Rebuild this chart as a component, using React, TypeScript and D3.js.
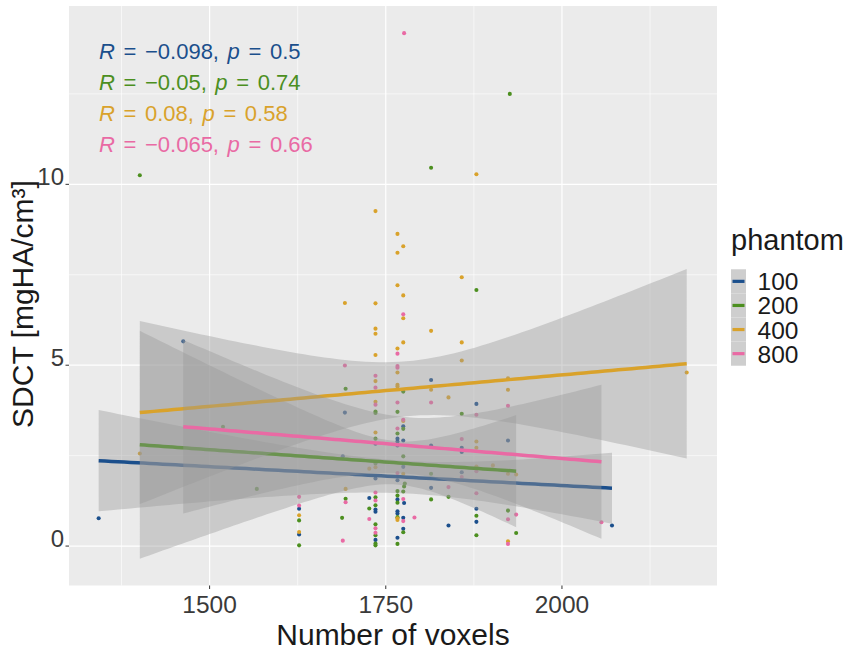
import React from "react";
import * as d3 from "d3";

// ---------- data ----------
const groups = ["100", "200", "400", "800"];
const groupColors = ["#1B4F8C", "#4C8F1F", "#D9A22B", "#E96AA4"];

const x100 = [1342.6, 1462.6, 1627, 1627, 1689, 1692, 1726.6, 1735.4, 1735.4, 1735.4, 1735.4, 1735.4, 1766.6, 1766.6, 1766.6, 1766.6, 1766.6, 1766.6, 1766.6, 1766.6, 1774.8, 1774.8, 1774.8, 1776, 1774.8, 1774.8, 1814.3, 1814.3, 1814.3, 1839, 1857.8, 1857.8, 1857.8, 1878.6, 1878.6, 1878.6, 1923.4, 2071];
const y100 = [0.77, 5.66, 1.03, 0.32, 2.48, 3.69, 1.33, 2.83, 1.87, 1.01, 0.95, 0.17, 2.97, 2.89, 2.78, 1.82, 1.29, 0.96, 0.9, 0.23, 3.31, 2.92, 2.19, 1.19, 0.78, 0.48, 4.59, 2.78, 1.61, 0.57, 2.72, 2.6, 2.04, 3.93, 1.03, 0.67, 2.92, 0.57];

const x200 = [1401, 1519, 1567, 1627, 1627, 1693, 1693, 1688, 1726.6, 1735.4, 1735.4, 1735.4, 1735.4, 1735.4, 1735.4, 1735.4, 1735.4, 1735.4, 1735.4, 1766.6, 1766.6, 1766.6, 1766.6, 1766.6, 1766.6, 1766.6, 1774.8, 1774.8, 1774.8, 1777, 1776, 1774.8, 1774.8, 1814.3, 1814.3, 1814.3, 1839, 1857.8, 1878.6, 1878.6, 1878.6, 1923.4, 1926, 1935];
const y200 = [10.25, 3.3, 1.58, 0.71, 0.02, 4.35, 1.31, 0.78, 1.04, 3.72, 3.68, 2.97, 2.28, 1.35, 1.13, 0.6, 0.3, 0.07, 0.02, 3.71, 3.11, 1.52, 1.4, 1.2, 0.8, 0.06, 4.27, 3.24, 2.48, 1.73, 1.65, 1.51, 0.38, 10.46, 2.0, 1.29, 1.36, 3.66, 7.08, 0.84, 0.3, 0.98, 12.5, 0.36];

const x400 = [1401, 1627, 1627, 1692, 1693, 1726.6, 1735.4, 1735.4, 1735.4, 1735.4, 1735.4, 1735.4, 1735.4, 1735.4, 1735.4, 1766.6, 1766.6, 1766.6, 1766.6, 1766.6, 1766.6, 1766.6, 1766.6, 1766.6, 1774.8, 1774.8, 1774.8, 1774.8, 1774.8, 1774.8, 1814.3, 1814.3, 1839, 1857.8, 1857.8, 1857.8, 1878.6, 1878.6, 1878.6, 1878.6, 1902, 1923.4, 1923.4, 1923.4, 1923.4, 1935, 2177];
const y400 = [2.56, 0.85, 0.39, 6.72, 1.58, 2.14, 9.26, 6.71, 6.01, 5.87, 5.28, 4.56, 3.99, 3.14, 2.18, 8.63, 8.11, 7.21, 5.46, 4.8, 4.46, 4.41, 0.77, 0.72, 8.29, 6.93, 6.3, 5.63, 3.46, 2.0, 5.95, 4.32, 4.11, 7.43, 5.63, 5.13, 10.28, 2.89, 2.72, 2.2, 2.23, 4.64, 4.32, 2.0, 0.13, 1.98, 4.8];

const x800 = [1627, 1627, 1692, 1693, 1689, 1726.6, 1735.4, 1735.4, 1735.4, 1735.4, 1735.4, 1735.4, 1735.4, 1766.6, 1766.6, 1766.6, 1766.6, 1766.6, 1766.6, 1774.8, 1774.8, 1774.8, 1774.8, 1776, 1790.7, 1814.3, 1839, 1857.8, 1857.8, 1878.6, 1878.6, 1878.6, 1923.4, 1923.4, 1923.4, 1935, 2056];
const y800 = [1.36, 1.12, 4.99, 1.21, 0.15, 0.75, 4.71, 4.38, 3.91, 1.48, 1.26, 0.49, 0.37, 5.32, 4.98, 4.93, 3.97, 3.25, 2.02, 6.41, 3.49, 1.3, 0.69, 14.18, 0.79, 3.97, 1.63, 2.96, 1.91, 3.63, 2.07, 1.46, 3.88, 0.74, 0.06, 0.87, 0.66];

const groupX = [x100, x200, x400, x800];
const groupY = [y100, y200, y400, y800];

// regression fits: end points of the line and CI half-widths
const fitX0 = [1342.6, 1401, 1401, 1462.6];
const fitX1 = [2071, 1935, 2177, 2056];
const fitY0 = [2.36, 2.8, 3.69, 3.3];
const fitY1 = [1.6, 2.07, 5.04, 2.33];
const ciHalf0 = [1.4, 3.15, 2.53, 2.4];
const ciHalf1 = [0.98, 1.55, 2.62, 2.13];
const ciHalfMin = [0.45, 0.6, 0.76, 0.78];

const corR = ["\u22120.098", "\u22120.05", "0.08", "\u22120.065"];
const corP = ["0.5", "0.74", "0.58", "0.66"];

const xMajor = [1500, 1750, 2000];
const xMinor = [1375, 1625, 1875, 2125];
const yMajor = [0, 5, 10];
const yMinor = [2.5, 7.5, 12.5];

const W = 851;
const H = 652;
const panel = { left: 69, right: 717, top: 6, bottom: 585.5 };

const xScale = d3.scaleLinear().domain([1300.5, 2220]).range([panel.left, panel.right]);
const yScale = d3.scaleLinear().domain([-1.09, 14.93]).range([panel.bottom, panel.top]);

function ribbonData(i: number) {
  const x0 = fitX0[i], x1 = fitX1[i];
  const m2 = ciHalfMin[i] ** 2;
  const a0 = ciHalf0[i] ** 2 - m2;
  const a1 = ciHalf1[i] ** 2 - m2;
  const r = Math.sqrt(a0 / a1);
  const xbar = (x0 + r * x1) / (1 + r);
  const b = a0 / ((x0 - xbar) ** 2);
  const line = d3.scaleLinear().domain([x0, x1]).range([fitY0[i], fitY1[i]]);
  const xsamp = d3.range(0, 81).map((k) => x0 + ((x1 - x0) * k) / 80);
  return xsamp.map((x) => {
    const hw = Math.sqrt(m2 + b * (x - xbar) ** 2);
    const yv = line(x);
    return { x, y: yv, lo: yv - hw, hi: yv + hw };
  });
}

const area = d3
  .area<{ x: number; lo: number; hi: number }>()
  .x((d) => xScale(d.x))
  .y0((d) => yScale(d.lo))
  .y1((d) => yScale(d.hi));
const fitLine = d3
  .line<{ x: number; y: number }>()
  .x((d) => xScale(d.x))
  .y((d) => yScale(d.y));

export default function App() {
  const font = "'Liberation Sans', Arial, Helvetica, sans-serif";
  const legendKeyH = 24.1;
  const legendTop = 269.3;
  return (
    <div style={{ position: "absolute", left: 0, top: 0 }}>
      <svg width={W} height={H} viewBox={`0 0 ${W} ${H}`} style={{ display: "block", fontFamily: font }}>
        <rect x={0} y={0} width={W} height={H} fill="#FFFFFF" />
        <rect
          x={panel.left}
          y={panel.top}
          width={panel.right - panel.left}
          height={panel.bottom - panel.top}
          fill="#EBEBEB"
        />
        {/* minor grid */}
        {xMinor.map((v) => (
          <line key={"xm" + v} x1={xScale(v)} x2={xScale(v)} y1={panel.top} y2={panel.bottom} stroke="#FFFFFF" strokeWidth={0.6} />
        ))}
        {yMinor.map((v) => (
          <line key={"ym" + v} y1={yScale(v)} y2={yScale(v)} x1={panel.left} x2={panel.right} stroke="#FFFFFF" strokeWidth={0.6} />
        ))}
        {/* major grid */}
        {xMajor.map((v) => (
          <line key={"xM" + v} x1={xScale(v)} x2={xScale(v)} y1={panel.top} y2={panel.bottom} stroke="#FFFFFF" strokeWidth={1.2} />
        ))}
        {yMajor.map((v) => (
          <line key={"yM" + v} y1={yScale(v)} y2={yScale(v)} x1={panel.left} x2={panel.right} stroke="#FFFFFF" strokeWidth={1.2} />
        ))}

        {/* points */}
        {groups.map((g, gi) =>
          groupX[gi].map((xv, k) => (
            <circle key={g + "-" + k} cx={xScale(xv)} cy={yScale(groupY[gi][k])} r={2.05} fill={groupColors[gi]} />
          ))
        )}

        {/* smooth: ribbon + line per group */}
        {groups.map((g, gi) => {
          const rd = ribbonData(gi);
          return (
            <g key={"fit" + g}>
              <path d={area(rd) || ""} fill="#999999" fillOpacity={0.4} stroke="none" />
              <path d={fitLine(rd) || ""} fill="none" stroke={groupColors[gi]} strokeWidth={3.5} />
            </g>
          );
        })}

        {/* correlation annotations */}
        {groups.map((g, gi) => (
          <text key={"ann" + g} x={99} y={58.5 + gi * 31} fontSize={22} fill={groupColors[gi]} style={{ wordSpacing: "2.5px", whiteSpace: "pre" }}>
            <tspan fontStyle="italic">R</tspan>
            {" = " + corR[gi] + ", "}
            <tspan fontStyle="italic">p</tspan>
            {" = " + corP[gi]}
          </text>
        ))}

        {/* axes ticks */}
        {yMajor.map((v) => (
          <g key={"yt" + v}>
            <line x1={panel.left - 3.5} x2={panel.left} y1={yScale(v)} y2={yScale(v)} stroke="#333333" strokeWidth={1} />
            <text x={64} y={yScale(v) + 1} textAnchor="end" fontSize={24} fill="#3A3A3A">
              {v}
            </text>
          </g>
        ))}
        {xMajor.map((v) => (
          <g key={"xt" + v}>
            <line x1={xScale(v)} x2={xScale(v)} y1={panel.bottom} y2={panel.bottom + 3.5} stroke="#333333" strokeWidth={1} />
            <text x={xScale(v)} y={612.7} textAnchor="middle" fontSize={24.5} fill="#3A3A3A">
              {v}
            </text>
          </g>
        ))}

        {/* axis titles */}
        <text x={(panel.left + panel.right) / 2} y={645} textAnchor="middle" fontSize={30} fill="#1A1A1A">
          Number of voxels
        </text>
        <text transform={`translate(33, 304) rotate(-90)`} textAnchor="middle" fontSize={30} fill="#1A1A1A">
          SDCT [mgHA/cm³]
        </text>

        {/* legend */}
        <text x={731} y={250} fontSize={29} fill="#1A1A1A">
          phantom
        </text>
        {groups.map((g, gi) => {
          const top = legendTop + gi * legendKeyH;
          const cy = top + legendKeyH / 2;
          return (
            <g key={"leg" + g}>
              <rect x={731} y={top} width={15} height={legendKeyH} fill="#F2F2F2" />
              <rect x={731} y={top} width={15} height={legendKeyH} fill="#999999" fillOpacity={0.4} />
              <line x1={732.5} x2={744.5} y1={cy} y2={cy} stroke={groupColors[gi]} strokeWidth={3.2} />
              <text x={757.5} y={cy + 9} fontSize={24.5} fill="#1A1A1A">
                {g}
              </text>
            </g>
          );
        })}
      </svg>
    </div>
  );
}
